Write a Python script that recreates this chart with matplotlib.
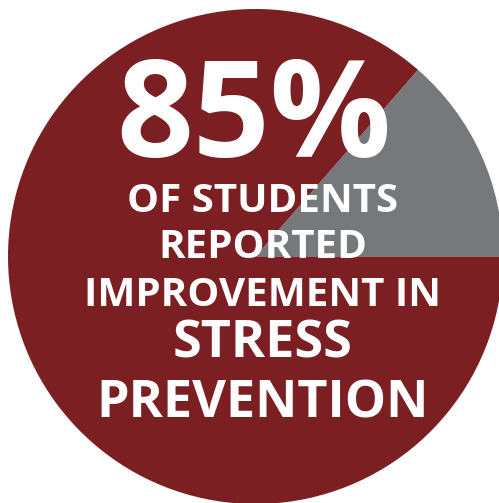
import matplotlib
matplotlib.use("Agg")
import matplotlib.pyplot as plt

# shares (grey wedge ~49 degrees)
labels = ["no improvement", "improvement"]
shares = [13.6, 86.4]
colors = ["#76797B", "#7B1F23"]

headline = "85%"
lines = ["OF STUDENTS", "REPORTED", "IMPROVEMENT IN", "STRESS", "PREVENTION"]

W, H = 499, 503
fig = plt.figure(figsize=(W / 100, H / 100), dpi=100)
ax = fig.add_axes([0, 0, 1, 1])

ax.pie(shares, colors=colors, startangle=0, counterclock=True,
       center=(255.5, H - 256.5), radius=247.5, frame=True,
       wedgeprops=dict(linewidth=0))
ax.set_xlim(0, W)
ax.set_ylim(0, H)
ax.set_aspect("equal")
ax.axis("off")

font = dict(family="Open Sans", weight="bold", color="white",
            ha="center", va="baseline")

ax.text(254, H - 157, headline, fontsize=97, **font)
# baseline (image y) and size for each line
baselines = [212, 258, 306, 357, 418]
sizes = [29, 29, 29, 37.5, 37.5]
for txt, b, s in zip(lines, baselines, sizes):
    ax.text(263, H - b, txt, fontsize=s, **font)

fig.savefig("out.png", dpi=100)
